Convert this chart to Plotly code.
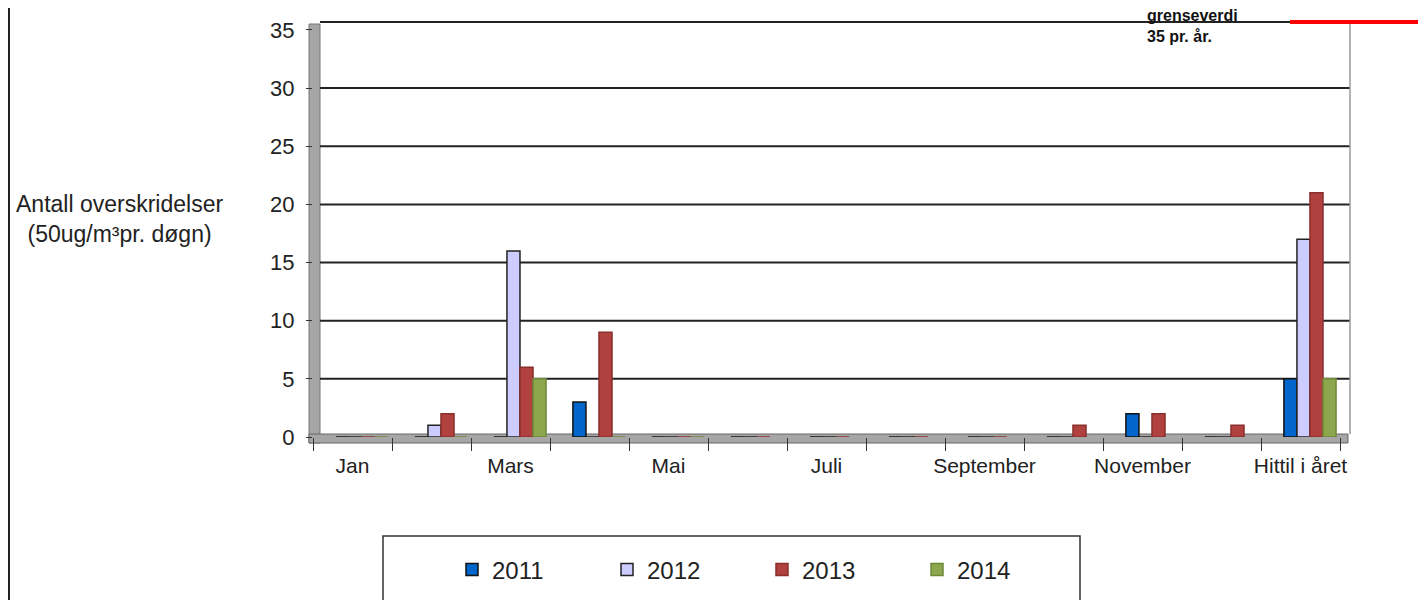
import plotly.graph_objects as go

categories = ["Jan", "Februar", "Mars", "April", "Mai", "Juni", "Juli", "August",
              "September", "Oktober", "November", "Desember", "Hittil i året"]
tick_labels = ["Jan", "", "Mars", "", "Mai", "", "Juli", "", "September", "",
               "November", "", "Hittil i året"]
series_names = ["2011", "2012", "2013", "2014"]
v2011 = [0, 0, 0, 3, 0, 0, 0, 0, 0, 0, 2, 0, 5]
v2012 = [0, 1, 16, 0, 0, 0, 0, 0, 0, 0, 0, 0, 17]
v2013 = [0, 2, 6, 9, 0, 0, 0, 0, 0, 1, 2, 1, 21]
v2014 = [0, 0, 5, 0, 0, None, None, None, None, None, None, None, 5]
y_ticks = [0, 5, 10, 15, 20, 25, 30, 35]
grid_values = [5, 10, 15, 20, 25, 30]
limit_value = 35

colors = ["#0066CC", "#CCCCFF", "#B0413E", "#8DA74E"]
outlines = ["#111111", "#222222", "#8A2F2C", "#6E8A38"]

FONT = "Arial, Liberation Sans, sans-serif"
OFF = 8  # page body margin
W, H = 1426 - OFF, 600 - OFF
# plot area in page pixels
PX0, PX1, PY0, PY1 = 313, 1340, 22, 437
L, R, T, B = PX0 - OFF, W - (PX1 - OFF), PY0 - OFF, H - (PY1 - OFF)
pw = W - L - R
ph = H - T - B
per_unit = 11.63
y_max = (PY1 - PY0) / per_unit

BAR_W = 0.165
GROUP_START = -0.21  # group shifted right within category (3D depth look)


def px_x(x):
    return (x - OFF - L) / pw


def px_y(y):
    return (H - B - (y - OFF)) / ph


fig = go.Figure()
for i, (name, vals, c, oc) in enumerate(zip(series_names, [v2011, v2012, v2013, v2014], colors, outlines)):
    fig.add_trace(go.Bar(
        x=categories, y=vals, name=name,
        width=BAR_W, offset=GROUP_START + i * BAR_W,
        marker=dict(color=c, line=dict(color=oc, width=1.5)),
    ))

shapes = [
    # left grey wall
    dict(type="rect", xref="paper", yref="paper", x0=px_x(309), x1=px_x(320),
         y0=px_y(443), y1=px_y(24), fillcolor="#A6A6A6", line=dict(color="#777777", width=1), layer="below"),
    # floor
    dict(type="rect", xref="paper", yref="paper", x0=px_x(309), x1=px_x(1348),
         y0=px_y(443), y1=px_y(434), fillcolor="#A6A6A6", line=dict(color="#666666", width=1), layer="below"),
    # right wall edge
    dict(type="line", xref="paper", yref="paper", x0=px_x(1350), x1=px_x(1350),
         y0=px_y(434), y1=px_y(22), line=dict(color="#999999", width=1.5)),
    # top frame line
    dict(type="line", xref="paper", yref="paper", x0=px_x(320), x1=px_x(1292),
         y0=px_y(22), y1=px_y(22), line=dict(color="#222222", width=2)),
    # threshold line
    dict(type="line", xref="paper", yref="paper", x0=px_x(1290), x1=px_x(1421),
         y0=px_y(22), y1=px_y(22), line=dict(color="#FF0000", width=4)),
    # legend box
    dict(type="rect", xref="paper", yref="paper", x0=px_x(383), x1=px_x(1080),
         y0=px_y(620), y1=px_y(536), line=dict(color="#333333", width=1.5)),
    # outer frame left border
    dict(type="line", xref="paper", yref="paper", x0=px_x(9), x1=px_x(9),
         y0=px_y(600), y1=px_y(0), line=dict(color="#222222", width=2)),
]
for gv in grid_values:
    shapes.append(dict(type="line", xref="paper", yref="y", x0=px_x(320), x1=px_x(1350),
                       y0=gv, y1=gv, line=dict(color="#222222", width=2), layer="below"))

annotations = [
    dict(xref="paper", yref="paper", x=px_x(119), y=px_y(219), xanchor="center", yanchor="middle",
         text="Antall overskridelser<br>(50ug/m³pr. døgn)", showarrow=False,
         font=dict(family=FONT, size=23, color="#222222"), align="center"),
    dict(xref="paper", yref="paper", x=px_x(1145), y=px_y(26), xanchor="left", yanchor="middle",
         text="<b>grenseverdi<br>35 pr. år.</b>", showarrow=False,
         font=dict(family=FONT, size=16, color="#111111"), align="left"),
]

fig.update_layout(
    width=W, height=H,
    margin=dict(l=L, r=R, t=T, b=B, autoexpand=False),
    paper_bgcolor="white", plot_bgcolor="white",
    barmode="group",
    font=dict(family=FONT, color="#222222"),
    showlegend=True,
    legend=dict(orientation="h", x=px_x(452), y=px_y(570), xanchor="left", yanchor="middle",
                font=dict(family=FONT, size=24, color="#222222"),
                entrywidth=110, entrywidthmode="pixels", itemwidth=30,
                bgcolor="rgba(0,0,0,0)"),
    shapes=shapes, annotations=annotations,
    xaxis=dict(type="category", tickmode="array", tickvals=categories, ticktext=tick_labels,
               tickson="boundaries", ticks="outside", ticklen=13, tickcolor="#333333",
               tickangle=0, automargin=False, ticklabelstandoff=14,
               tickfont=dict(family=FONT, size=21, color="#222222"),
               showgrid=False, showline=False, zeroline=False),
    yaxis=dict(range=[0, y_max], tickvals=y_ticks,
               ticks="outside", ticklen=6, tickcolor="#333333", automargin=False,
               ticklabelstandoff=7,
               tickfont=dict(family=FONT, size=22, color="#222222"),
               showgrid=False, zeroline=False, showline=False),
)

fig.write_html("out.html")
